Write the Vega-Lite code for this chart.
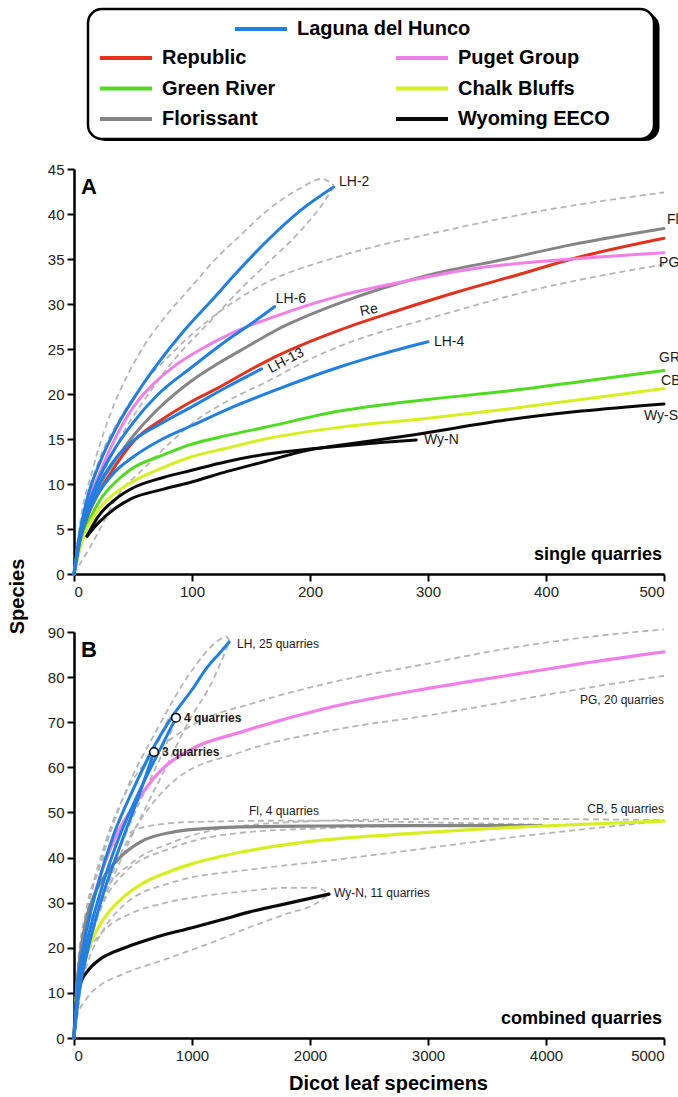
{
  "$schema": "https://vega.github.io/schema/vega-lite/v6.json",
  "background": "white",
  "padding": {"left": 7, "top": 7, "right": 0, "bottom": 0},
  "config": {
    "view": {"stroke": null},
    "font": "Liberation Sans",
    "axis": {"domainColor": "black", "domainWidth": 2.5, "tickColor": "black", "tickWidth": 2, "tickSize": 7, "labelFont": "Liberation Sans", "labelFontSize": 15, "labelColor": "#222222", "grid": false, "labelPadding": 3, "titleFont": "Liberation Sans", "titleFontWeight": "bold", "titleFontSize": 20, "titleColor": "black"}
  },
  "spacing": 58,
  "bounds": "flush",
  "resolve": {"scale": {"x": "independent", "y": "independent"}},
  "datasets": {
    "curvesA": [
      {"site": "Laguna del Hunco", "curve": "LH-2", "n": 0, "s": 0}, {"site": "Laguna del Hunco", "curve": "LH-2", "n": 4, "s": 3.9}, {"site": "Laguna del Hunco", "curve": "LH-2", "n": 11, "s": 8.3}, {"site": "Laguna del Hunco", "curve": "LH-2", "n": 22, "s": 12.4}, {"site": "Laguna del Hunco", "curve": "LH-2", "n": 36, "s": 16.3}, {"site": "Laguna del Hunco", "curve": "LH-2", "n": 54, "s": 20.2}, {"site": "Laguna del Hunco", "curve": "LH-2", "n": 70, "s": 23.2}, {"site": "Laguna del Hunco", "curve": "LH-2", "n": 93, "s": 27}, {"site": "Laguna del Hunco", "curve": "LH-2", "n": 116, "s": 30.3}, {"site": "Laguna del Hunco", "curve": "LH-2", "n": 140, "s": 33.8}, {"site": "Laguna del Hunco", "curve": "LH-2", "n": 165, "s": 37.2}, {"site": "Laguna del Hunco", "curve": "LH-2", "n": 191, "s": 40.3}, {"site": "Laguna del Hunco", "curve": "LH-2", "n": 220, "s": 43},
      {"site": "Laguna del Hunco", "curve": "LH-6", "n": 0, "s": 0}, {"site": "Laguna del Hunco", "curve": "LH-6", "n": 5, "s": 4}, {"site": "Laguna del Hunco", "curve": "LH-6", "n": 10, "s": 6.8}, {"site": "Laguna del Hunco", "curve": "LH-6", "n": 20, "s": 10.3}, {"site": "Laguna del Hunco", "curve": "LH-6", "n": 35, "s": 14}, {"site": "Laguna del Hunco", "curve": "LH-6", "n": 50, "s": 16.8}, {"site": "Laguna del Hunco", "curve": "LH-6", "n": 70, "s": 19.8}, {"site": "Laguna del Hunco", "curve": "LH-6", "n": 100, "s": 23}, {"site": "Laguna del Hunco", "curve": "LH-6", "n": 130, "s": 26}, {"site": "Laguna del Hunco", "curve": "LH-6", "n": 150, "s": 27.8}, {"site": "Laguna del Hunco", "curve": "LH-6", "n": 170, "s": 29.7},
      {"site": "Laguna del Hunco", "curve": "LH-13", "n": 0, "s": 0}, {"site": "Laguna del Hunco", "curve": "LH-13", "n": 5, "s": 3.8}, {"site": "Laguna del Hunco", "curve": "LH-13", "n": 10, "s": 6.4}, {"site": "Laguna del Hunco", "curve": "LH-13", "n": 20, "s": 9.6}, {"site": "Laguna del Hunco", "curve": "LH-13", "n": 35, "s": 12.8}, {"site": "Laguna del Hunco", "curve": "LH-13", "n": 50, "s": 14.8}, {"site": "Laguna del Hunco", "curve": "LH-13", "n": 75, "s": 16.8}, {"site": "Laguna del Hunco", "curve": "LH-13", "n": 100, "s": 18.6}, {"site": "Laguna del Hunco", "curve": "LH-13", "n": 130, "s": 20.8}, {"site": "Laguna del Hunco", "curve": "LH-13", "n": 159, "s": 22.8},
      {"site": "Laguna del Hunco", "curve": "LH-4", "n": 0, "s": 0}, {"site": "Laguna del Hunco", "curve": "LH-4", "n": 5, "s": 3.6}, {"site": "Laguna del Hunco", "curve": "LH-4", "n": 10, "s": 6}, {"site": "Laguna del Hunco", "curve": "LH-4", "n": 20, "s": 8.8}, {"site": "Laguna del Hunco", "curve": "LH-4", "n": 35, "s": 11.4}, {"site": "Laguna del Hunco", "curve": "LH-4", "n": 50, "s": 13}, {"site": "Laguna del Hunco", "curve": "LH-4", "n": 75, "s": 15}, {"site": "Laguna del Hunco", "curve": "LH-4", "n": 100, "s": 16.5}, {"site": "Laguna del Hunco", "curve": "LH-4", "n": 130, "s": 18.3}, {"site": "Laguna del Hunco", "curve": "LH-4", "n": 170, "s": 20.4}, {"site": "Laguna del Hunco", "curve": "LH-4", "n": 225, "s": 23}, {"site": "Laguna del Hunco", "curve": "LH-4", "n": 260, "s": 24.4}, {"site": "Laguna del Hunco", "curve": "LH-4", "n": 300, "s": 25.8},
      {"site": "Republic", "curve": "Re", "n": 0, "s": 0}, {"site": "Republic", "curve": "Re", "n": 5, "s": 3.3}, {"site": "Republic", "curve": "Re", "n": 10, "s": 5.8}, {"site": "Republic", "curve": "Re", "n": 20, "s": 8.8}, {"site": "Republic", "curve": "Re", "n": 30, "s": 11}, {"site": "Republic", "curve": "Re", "n": 51, "s": 14.8}, {"site": "Republic", "curve": "Re", "n": 75, "s": 17.2}, {"site": "Republic", "curve": "Re", "n": 100, "s": 19.2}, {"site": "Republic", "curve": "Re", "n": 121, "s": 20.6}, {"site": "Republic", "curve": "Re", "n": 151, "s": 22.8}, {"site": "Republic", "curve": "Re", "n": 170, "s": 24.1}, {"site": "Republic", "curve": "Re", "n": 225, "s": 27.1}, {"site": "Republic", "curve": "Re", "n": 275, "s": 29.3}, {"site": "Republic", "curve": "Re", "n": 324, "s": 31.3}, {"site": "Republic", "curve": "Re", "n": 375, "s": 33.2}, {"site": "Republic", "curve": "Re", "n": 422, "s": 35}, {"site": "Republic", "curve": "Re", "n": 500, "s": 37.3},
      {"site": "Florissant", "curve": "Fl", "n": 0, "s": 0}, {"site": "Florissant", "curve": "Fl", "n": 5, "s": 3.6}, {"site": "Florissant", "curve": "Fl", "n": 10, "s": 6.2}, {"site": "Florissant", "curve": "Fl", "n": 20, "s": 9.4}, {"site": "Florissant", "curve": "Fl", "n": 37, "s": 13}, {"site": "Florissant", "curve": "Fl", "n": 50, "s": 15.3}, {"site": "Florissant", "curve": "Fl", "n": 71, "s": 18.3}, {"site": "Florissant", "curve": "Fl", "n": 100, "s": 21.5}, {"site": "Florissant", "curve": "Fl", "n": 121, "s": 23.3}, {"site": "Florissant", "curve": "Fl", "n": 150, "s": 25.5}, {"site": "Florissant", "curve": "Fl", "n": 170, "s": 27}, {"site": "Florissant", "curve": "Fl", "n": 225, "s": 30.1}, {"site": "Florissant", "curve": "Fl", "n": 300, "s": 33.2}, {"site": "Florissant", "curve": "Fl", "n": 366, "s": 35}, {"site": "Florissant", "curve": "Fl", "n": 422, "s": 36.6}, {"site": "Florissant", "curve": "Fl", "n": 500, "s": 38.4},
      {"site": "Puget Group", "curve": "PG", "n": 0, "s": 0}, {"site": "Puget Group", "curve": "PG", "n": 5, "s": 4.2}, {"site": "Puget Group", "curve": "PG", "n": 10, "s": 7.2}, {"site": "Puget Group", "curve": "PG", "n": 22, "s": 11.3}, {"site": "Puget Group", "curve": "PG", "n": 37, "s": 15.6}, {"site": "Puget Group", "curve": "PG", "n": 54, "s": 19.2}, {"site": "Puget Group", "curve": "PG", "n": 68, "s": 21.2}, {"site": "Puget Group", "curve": "PG", "n": 85, "s": 23.1}, {"site": "Puget Group", "curve": "PG", "n": 108, "s": 25}, {"site": "Puget Group", "curve": "PG", "n": 136, "s": 26.9}, {"site": "Puget Group", "curve": "PG", "n": 170, "s": 28.6}, {"site": "Puget Group", "curve": "PG", "n": 225, "s": 30.9}, {"site": "Puget Group", "curve": "PG", "n": 280, "s": 32.5}, {"site": "Puget Group", "curve": "PG", "n": 337, "s": 33.9}, {"site": "Puget Group", "curve": "PG", "n": 422, "s": 35}, {"site": "Puget Group", "curve": "PG", "n": 500, "s": 35.7},
      {"site": "Green River", "curve": "GR", "n": 0, "s": 0}, {"site": "Green River", "curve": "GR", "n": 5, "s": 3}, {"site": "Green River", "curve": "GR", "n": 10, "s": 5}, {"site": "Green River", "curve": "GR", "n": 21, "s": 8}, {"site": "Green River", "curve": "GR", "n": 35, "s": 10.2}, {"site": "Green River", "curve": "GR", "n": 49, "s": 11.7}, {"site": "Green River", "curve": "GR", "n": 75, "s": 13.2}, {"site": "Green River", "curve": "GR", "n": 99, "s": 14.4}, {"site": "Green River", "curve": "GR", "n": 130, "s": 15.4}, {"site": "Green River", "curve": "GR", "n": 162, "s": 16.3}, {"site": "Green River", "curve": "GR", "n": 225, "s": 18.1}, {"site": "Green River", "curve": "GR", "n": 300, "s": 19.4}, {"site": "Green River", "curve": "GR", "n": 366, "s": 20.3}, {"site": "Green River", "curve": "GR", "n": 430, "s": 21.4}, {"site": "Green River", "curve": "GR", "n": 500, "s": 22.6},
      {"site": "Chalk Bluffs", "curve": "CB", "n": 0, "s": 0}, {"site": "Chalk Bluffs", "curve": "CB", "n": 5, "s": 2.8}, {"site": "Chalk Bluffs", "curve": "CB", "n": 10, "s": 4.7}, {"site": "Chalk Bluffs", "curve": "CB", "n": 21, "s": 7.2}, {"site": "Chalk Bluffs", "curve": "CB", "n": 35, "s": 9}, {"site": "Chalk Bluffs", "curve": "CB", "n": 49, "s": 10.2}, {"site": "Chalk Bluffs", "curve": "CB", "n": 75, "s": 11.8}, {"site": "Chalk Bluffs", "curve": "CB", "n": 99, "s": 13}, {"site": "Chalk Bluffs", "curve": "CB", "n": 130, "s": 14}, {"site": "Chalk Bluffs", "curve": "CB", "n": 162, "s": 15}, {"site": "Chalk Bluffs", "curve": "CB", "n": 225, "s": 16.3}, {"site": "Chalk Bluffs", "curve": "CB", "n": 300, "s": 17.3}, {"site": "Chalk Bluffs", "curve": "CB", "n": 366, "s": 18.3}, {"site": "Chalk Bluffs", "curve": "CB", "n": 430, "s": 19.4}, {"site": "Chalk Bluffs", "curve": "CB", "n": 500, "s": 20.6},
      {"site": "Wyoming EECO", "curve": "Wy-N", "n": 11, "s": 4.2}, {"site": "Wyoming EECO", "curve": "Wy-N", "n": 20, "s": 6.3}, {"site": "Wyoming EECO", "curve": "Wy-N", "n": 35, "s": 8.3}, {"site": "Wyoming EECO", "curve": "Wy-N", "n": 49, "s": 9.5}, {"site": "Wyoming EECO", "curve": "Wy-N", "n": 75, "s": 10.7}, {"site": "Wyoming EECO", "curve": "Wy-N", "n": 99, "s": 11.5}, {"site": "Wyoming EECO", "curve": "Wy-N", "n": 130, "s": 12.5}, {"site": "Wyoming EECO", "curve": "Wy-N", "n": 162, "s": 13.3}, {"site": "Wyoming EECO", "curve": "Wy-N", "n": 200, "s": 13.9}, {"site": "Wyoming EECO", "curve": "Wy-N", "n": 225, "s": 14.2}, {"site": "Wyoming EECO", "curve": "Wy-N", "n": 260, "s": 14.6}, {"site": "Wyoming EECO", "curve": "Wy-N", "n": 290, "s": 14.9},
      {"site": "Wyoming EECO", "curve": "Wy-S", "n": 11, "s": 4.2}, {"site": "Wyoming EECO", "curve": "Wy-S", "n": 20, "s": 5.6}, {"site": "Wyoming EECO", "curve": "Wy-S", "n": 35, "s": 7.3}, {"site": "Wyoming EECO", "curve": "Wy-S", "n": 49, "s": 8.4}, {"site": "Wyoming EECO", "curve": "Wy-S", "n": 75, "s": 9.4}, {"site": "Wyoming EECO", "curve": "Wy-S", "n": 99, "s": 10.2}, {"site": "Wyoming EECO", "curve": "Wy-S", "n": 130, "s": 11.4}, {"site": "Wyoming EECO", "curve": "Wy-S", "n": 162, "s": 12.5}, {"site": "Wyoming EECO", "curve": "Wy-S", "n": 200, "s": 13.8}, {"site": "Wyoming EECO", "curve": "Wy-S", "n": 225, "s": 14.3}, {"site": "Wyoming EECO", "curve": "Wy-S", "n": 290, "s": 15.5}, {"site": "Wyoming EECO", "curve": "Wy-S", "n": 366, "s": 17.1}, {"site": "Wyoming EECO", "curve": "Wy-S", "n": 430, "s": 18.1}, {"site": "Wyoming EECO", "curve": "Wy-S", "n": 500, "s": 18.9}
    ],
    "ciA": [
      {"curve": "LH-2 hi", "n": 0, "s": 0}, {"curve": "LH-2 hi", "n": 5, "s": 5.5}, {"curve": "LH-2 hi", "n": 16, "s": 11.7}, {"curve": "LH-2 hi", "n": 30, "s": 17.5}, {"curve": "LH-2 hi", "n": 45, "s": 22}, {"curve": "LH-2 hi", "n": 60, "s": 25.5}, {"curve": "LH-2 hi", "n": 78, "s": 28.7}, {"curve": "LH-2 hi", "n": 100, "s": 32}, {"curve": "LH-2 hi", "n": 120, "s": 35}, {"curve": "LH-2 hi", "n": 140, "s": 37.5}, {"curve": "LH-2 hi", "n": 162, "s": 40.2}, {"curve": "LH-2 hi", "n": 191, "s": 42.8}, {"curve": "LH-2 hi", "n": 210, "s": 43.9}, {"curve": "LH-2 hi", "n": 220, "s": 43.2},
      {"curve": "LH-2 lo", "n": 0, "s": 0}, {"curve": "LH-2 lo", "n": 10, "s": 5.5}, {"curve": "LH-2 lo", "n": 20, "s": 9.5}, {"curve": "LH-2 lo", "n": 40, "s": 15.3}, {"curve": "LH-2 lo", "n": 60, "s": 19.4}, {"curve": "LH-2 lo", "n": 83, "s": 23.5}, {"curve": "LH-2 lo", "n": 117, "s": 28.3}, {"curve": "LH-2 lo", "n": 140, "s": 31.5}, {"curve": "LH-2 lo", "n": 162, "s": 34.3}, {"curve": "LH-2 lo", "n": 191, "s": 38}, {"curve": "LH-2 lo", "n": 210, "s": 41}, {"curve": "LH-2 lo", "n": 220, "s": 43},
      {"curve": "Fl hi", "n": 0, "s": 0}, {"curve": "Fl hi", "n": 10, "s": 8}, {"curve": "Fl hi", "n": 20, "s": 12.2}, {"curve": "Fl hi", "n": 40, "s": 17.5}, {"curve": "Fl hi", "n": 60, "s": 21.3}, {"curve": "Fl hi", "n": 85, "s": 24.8}, {"curve": "Fl hi", "n": 117, "s": 28.5}, {"curve": "Fl hi", "n": 162, "s": 32.3}, {"curve": "Fl hi", "n": 225, "s": 35.3}, {"curve": "Fl hi", "n": 309, "s": 38}, {"curve": "Fl hi", "n": 394, "s": 40.3}, {"curve": "Fl hi", "n": 500, "s": 42.4},
      {"curve": "Fl lo", "n": 0, "s": 0}, {"curve": "Fl lo", "n": 15, "s": 3.3}, {"curve": "Fl lo", "n": 42, "s": 9.6}, {"curve": "Fl lo", "n": 55, "s": 11.2}, {"curve": "Fl lo", "n": 85, "s": 15}, {"curve": "Fl lo", "n": 106, "s": 17.3}, {"curve": "Fl lo", "n": 127, "s": 19}, {"curve": "Fl lo", "n": 170, "s": 21.8}, {"curve": "Fl lo", "n": 191, "s": 23.3}, {"curve": "Fl lo", "n": 225, "s": 25.3}, {"curve": "Fl lo", "n": 309, "s": 28.7}, {"curve": "Fl lo", "n": 394, "s": 31.7}, {"curve": "Fl lo", "n": 500, "s": 34.4}
    ],
    "curvesB": [
      {"site": "Laguna del Hunco", "curve": "LH 25", "n": 0, "s": 0}, {"site": "Laguna del Hunco", "curve": "LH 25", "n": 25, "s": 10.2}, {"site": "Laguna del Hunco", "curve": "LH 25", "n": 85, "s": 21}, {"site": "Laguna del Hunco", "curve": "LH 25", "n": 195, "s": 33.3}, {"site": "Laguna del Hunco", "curve": "LH 25", "n": 339, "s": 45.3}, {"site": "Laguna del Hunco", "curve": "LH 25", "n": 508, "s": 55.5}, {"site": "Laguna del Hunco", "curve": "LH 25", "n": 678, "s": 64.6}, {"site": "Laguna del Hunco", "curve": "LH 25", "n": 847, "s": 71.8}, {"site": "Laguna del Hunco", "curve": "LH 25", "n": 1000, "s": 77.2}, {"site": "Laguna del Hunco", "curve": "LH 25", "n": 1130, "s": 82.2}, {"site": "Laguna del Hunco", "curve": "LH 25", "n": 1230, "s": 85.2}, {"site": "Laguna del Hunco", "curve": "LH 25", "n": 1314, "s": 87.8},
      {"site": "Laguna del Hunco", "curve": "LH 4q", "n": 0, "s": 0}, {"site": "Laguna del Hunco", "curve": "LH 4q", "n": 30, "s": 9.6}, {"site": "Laguna del Hunco", "curve": "LH 4q", "n": 100, "s": 20}, {"site": "Laguna del Hunco", "curve": "LH 4q", "n": 220, "s": 32}, {"site": "Laguna del Hunco", "curve": "LH 4q", "n": 360, "s": 43}, {"site": "Laguna del Hunco", "curve": "LH 4q", "n": 520, "s": 52.8}, {"site": "Laguna del Hunco", "curve": "LH 4q", "n": 700, "s": 62.5}, {"site": "Laguna del Hunco", "curve": "LH 4q", "n": 864, "s": 71},
      {"site": "Laguna del Hunco", "curve": "LH 3q", "n": 0, "s": 0}, {"site": "Laguna del Hunco", "curve": "LH 3q", "n": 40, "s": 9.4}, {"site": "Laguna del Hunco", "curve": "LH 3q", "n": 120, "s": 19.8}, {"site": "Laguna del Hunco", "curve": "LH 3q", "n": 240, "s": 31.3}, {"site": "Laguna del Hunco", "curve": "LH 3q", "n": 390, "s": 42.5}, {"site": "Laguna del Hunco", "curve": "LH 3q", "n": 540, "s": 53}, {"site": "Laguna del Hunco", "curve": "LH 3q", "n": 678, "s": 63.4},
      {"site": "Puget Group", "curve": "PG", "n": 0, "s": 0}, {"site": "Puget Group", "curve": "PG", "n": 30, "s": 12}, {"site": "Puget Group", "curve": "PG", "n": 100, "s": 24}, {"site": "Puget Group", "curve": "PG", "n": 200, "s": 34}, {"site": "Puget Group", "curve": "PG", "n": 300, "s": 41.5}, {"site": "Puget Group", "curve": "PG", "n": 400, "s": 47}, {"site": "Puget Group", "curve": "PG", "n": 508, "s": 51.5}, {"site": "Puget Group", "curve": "PG", "n": 706, "s": 58.5}, {"site": "Puget Group", "curve": "PG", "n": 992, "s": 64}, {"site": "Puget Group", "curve": "PG", "n": 1415, "s": 67.8}, {"site": "Puget Group", "curve": "PG", "n": 2119, "s": 73}, {"site": "Puget Group", "curve": "PG", "n": 3000, "s": 77.5}, {"site": "Puget Group", "curve": "PG", "n": 3661, "s": 80.3}, {"site": "Puget Group", "curve": "PG", "n": 4300, "s": 83}, {"site": "Puget Group", "curve": "PG", "n": 5000, "s": 85.6},
      {"site": "Florissant", "curve": "Fl", "n": 0, "s": 0}, {"site": "Florissant", "curve": "Fl", "n": 20, "s": 10}, {"site": "Florissant", "curve": "Fl", "n": 50, "s": 18}, {"site": "Florissant", "curve": "Fl", "n": 100, "s": 26}, {"site": "Florissant", "curve": "Fl", "n": 169, "s": 31.5}, {"site": "Florissant", "curve": "Fl", "n": 282, "s": 36.8}, {"site": "Florissant", "curve": "Fl", "n": 400, "s": 40.3}, {"site": "Florissant", "curve": "Fl", "n": 565, "s": 43.5}, {"site": "Florissant", "curve": "Fl", "n": 847, "s": 45.7}, {"site": "Florissant", "curve": "Fl", "n": 1100, "s": 46.4}, {"site": "Florissant", "curve": "Fl", "n": 1415, "s": 46.8}, {"site": "Florissant", "curve": "Fl", "n": 2119, "s": 47}, {"site": "Florissant", "curve": "Fl", "n": 3000, "s": 47.1}, {"site": "Florissant", "curve": "Fl", "n": 3966, "s": 47.1},
      {"site": "Chalk Bluffs", "curve": "CB", "n": 0, "s": 0}, {"site": "Chalk Bluffs", "curve": "CB", "n": 20, "s": 9}, {"site": "Chalk Bluffs", "curve": "CB", "n": 85, "s": 16.5}, {"site": "Chalk Bluffs", "curve": "CB", "n": 150, "s": 21.5}, {"site": "Chalk Bluffs", "curve": "CB", "n": 282, "s": 27.5}, {"site": "Chalk Bluffs", "curve": "CB", "n": 400, "s": 30.8}, {"site": "Chalk Bluffs", "curve": "CB", "n": 565, "s": 34}, {"site": "Chalk Bluffs", "curve": "CB", "n": 800, "s": 36.8}, {"site": "Chalk Bluffs", "curve": "CB", "n": 1000, "s": 38.6}, {"site": "Chalk Bluffs", "curve": "CB", "n": 1415, "s": 41.2}, {"site": "Chalk Bluffs", "curve": "CB", "n": 2119, "s": 43.9}, {"site": "Chalk Bluffs", "curve": "CB", "n": 2898, "s": 45.4}, {"site": "Chalk Bluffs", "curve": "CB", "n": 3500, "s": 46.4}, {"site": "Chalk Bluffs", "curve": "CB", "n": 3966, "s": 47}, {"site": "Chalk Bluffs", "curve": "CB", "n": 5000, "s": 48.1},
      {"site": "Wyoming EECO", "curve": "Wy-N", "n": 0, "s": 0}, {"site": "Wyoming EECO", "curve": "Wy-N", "n": 10, "s": 5.5}, {"site": "Wyoming EECO", "curve": "Wy-N", "n": 30, "s": 9.8}, {"site": "Wyoming EECO", "curve": "Wy-N", "n": 60, "s": 12.5}, {"site": "Wyoming EECO", "curve": "Wy-N", "n": 120, "s": 15}, {"site": "Wyoming EECO", "curve": "Wy-N", "n": 212, "s": 17.3}, {"site": "Wyoming EECO", "curve": "Wy-N", "n": 350, "s": 19.2}, {"site": "Wyoming EECO", "curve": "Wy-N", "n": 492, "s": 20.6}, {"site": "Wyoming EECO", "curve": "Wy-N", "n": 700, "s": 22.4}, {"site": "Wyoming EECO", "curve": "Wy-N", "n": 992, "s": 24.4}, {"site": "Wyoming EECO", "curve": "Wy-N", "n": 1250, "s": 26.2}, {"site": "Wyoming EECO", "curve": "Wy-N", "n": 1483, "s": 27.9}, {"site": "Wyoming EECO", "curve": "Wy-N", "n": 1800, "s": 29.8}, {"site": "Wyoming EECO", "curve": "Wy-N", "n": 2161, "s": 31.9}
    ],
    "ciB": [
      {"curve": "LH out hi", "n": 0, "s": 0}, {"curve": "LH out hi", "n": 30, "s": 13}, {"curve": "LH out hi", "n": 85, "s": 24.2}, {"curve": "LH out hi", "n": 229, "s": 39}, {"curve": "LH out hi", "n": 424, "s": 53.7}, {"curve": "LH out hi", "n": 706, "s": 68.5}, {"curve": "LH out hi", "n": 992, "s": 81.2}, {"curve": "LH out hi", "n": 1246, "s": 88.5}, {"curve": "LH out hi", "n": 1290, "s": 89}, {"curve": "LH out hi", "n": 1314, "s": 88.2},
      {"curve": "LH out lo", "n": 0, "s": 0}, {"curve": "LH out lo", "n": 60, "s": 12}, {"curve": "LH out lo", "n": 169, "s": 24.2}, {"curve": "LH out lo", "n": 364, "s": 37.5}, {"curve": "LH out lo", "n": 568, "s": 49}, {"curve": "LH out lo", "n": 788, "s": 60.5}, {"curve": "LH out lo", "n": 958, "s": 69.5}, {"curve": "LH out lo", "n": 1186, "s": 79.8}, {"curve": "LH out lo", "n": 1280, "s": 85.5}, {"curve": "LH out lo", "n": 1314, "s": 87.8},
      {"curve": "LH in hi", "n": 0, "s": 0}, {"curve": "LH in hi", "n": 40, "s": 13.5}, {"curve": "LH in hi", "n": 120, "s": 25}, {"curve": "LH in hi", "n": 250, "s": 38}, {"curve": "LH in hi", "n": 400, "s": 49}, {"curve": "LH in hi", "n": 560, "s": 58}, {"curve": "LH in hi", "n": 720, "s": 66}, {"curve": "LH in hi", "n": 830, "s": 71.5}, {"curve": "LH in hi", "n": 864, "s": 71.6},
      {"curve": "LH in lo", "n": 0, "s": 0}, {"curve": "LH in lo", "n": 80, "s": 14.5}, {"curve": "LH in lo", "n": 200, "s": 27.5}, {"curve": "LH in lo", "n": 350, "s": 39.5}, {"curve": "LH in lo", "n": 500, "s": 49}, {"curve": "LH in lo", "n": 650, "s": 57.5}, {"curve": "LH in lo", "n": 780, "s": 65}, {"curve": "LH in lo", "n": 864, "s": 71},
      {"curve": "PG hi", "n": 0, "s": 0}, {"curve": "PG hi", "n": 40, "s": 15}, {"curve": "PG hi", "n": 120, "s": 29}, {"curve": "PG hi", "n": 250, "s": 42}, {"curve": "PG hi", "n": 450, "s": 55}, {"curve": "PG hi", "n": 700, "s": 63.5}, {"curve": "PG hi", "n": 992, "s": 69.2}, {"curve": "PG hi", "n": 1554, "s": 74.5}, {"curve": "PG hi", "n": 2246, "s": 79.2}, {"curve": "PG hi", "n": 3000, "s": 83}, {"curve": "PG hi", "n": 3661, "s": 86.3}, {"curve": "PG hi", "n": 4300, "s": 88.7}, {"curve": "PG hi", "n": 5000, "s": 90.6},
      {"curve": "PG lo", "n": 0, "s": 0}, {"curve": "PG lo", "n": 60, "s": 13}, {"curve": "PG lo", "n": 200, "s": 27}, {"curve": "PG lo", "n": 400, "s": 41}, {"curve": "PG lo", "n": 568, "s": 48.5}, {"curve": "PG lo", "n": 847, "s": 57}, {"curve": "PG lo", "n": 1415, "s": 63.4}, {"curve": "PG lo", "n": 2246, "s": 68.5}, {"curve": "PG lo", "n": 3000, "s": 71.5}, {"curve": "PG lo", "n": 3661, "s": 74.5}, {"curve": "PG lo", "n": 4300, "s": 77.4}, {"curve": "PG lo", "n": 5000, "s": 80.3},
      {"curve": "Fl hi", "n": 0, "s": 0}, {"curve": "Fl hi", "n": 30, "s": 15}, {"curve": "Fl hi", "n": 100, "s": 28}, {"curve": "Fl hi", "n": 200, "s": 37}, {"curve": "Fl hi", "n": 400, "s": 44}, {"curve": "Fl hi", "n": 600, "s": 46.8}, {"curve": "Fl hi", "n": 1000, "s": 47.9}, {"curve": "Fl hi", "n": 2000, "s": 48.2}, {"curve": "Fl hi", "n": 3000, "s": 47.8}, {"curve": "Fl hi", "n": 3966, "s": 47.3},
      {"curve": "Fl lo", "n": 0, "s": 0}, {"curve": "Fl lo", "n": 30, "s": 8}, {"curve": "Fl lo", "n": 100, "s": 18}, {"curve": "Fl lo", "n": 250, "s": 30}, {"curve": "Fl lo", "n": 424, "s": 36.5}, {"curve": "Fl lo", "n": 847, "s": 42.3}, {"curve": "Fl lo", "n": 1415, "s": 45.5}, {"curve": "Fl lo", "n": 2119, "s": 46.5}, {"curve": "Fl lo", "n": 3000, "s": 47}, {"curve": "Fl lo", "n": 3966, "s": 47.1},
      {"curve": "CB hi", "n": 0, "s": 0}, {"curve": "CB hi", "n": 30, "s": 13}, {"curve": "CB hi", "n": 100, "s": 22.5}, {"curve": "CB hi", "n": 250, "s": 32}, {"curve": "CB hi", "n": 500, "s": 39}, {"curve": "CB hi", "n": 847, "s": 43.5}, {"curve": "CB hi", "n": 1483, "s": 47.2}, {"curve": "CB hi", "n": 2500, "s": 48.4}, {"curve": "CB hi", "n": 3500, "s": 48.6}, {"curve": "CB hi", "n": 5000, "s": 48.3},
      {"curve": "CB lo", "n": 0, "s": 0}, {"curve": "CB lo", "n": 40, "s": 9}, {"curve": "CB lo", "n": 120, "s": 17}, {"curve": "CB lo", "n": 250, "s": 24}, {"curve": "CB lo", "n": 424, "s": 29.5}, {"curve": "CB lo", "n": 847, "s": 34.6}, {"curve": "CB lo", "n": 1483, "s": 37.3}, {"curve": "CB lo", "n": 2119, "s": 39.2}, {"curve": "CB lo", "n": 2610, "s": 40.8}, {"curve": "CB lo", "n": 3746, "s": 44.6}, {"curve": "CB lo", "n": 5000, "s": 48.1},
      {"curve": "Wy hi", "n": 0, "s": 0}, {"curve": "Wy hi", "n": 20, "s": 10}, {"curve": "Wy hi", "n": 60, "s": 15.5}, {"curve": "Wy hi", "n": 150, "s": 20.5}, {"curve": "Wy hi", "n": 282, "s": 24.5}, {"curve": "Wy hi", "n": 500, "s": 27.8}, {"curve": "Wy hi", "n": 780, "s": 30}, {"curve": "Wy hi", "n": 1100, "s": 31.5}, {"curve": "Wy hi", "n": 1483, "s": 32.6}, {"curve": "Wy hi", "n": 1800, "s": 33.3}, {"curve": "Wy hi", "n": 2050, "s": 33.3}, {"curve": "Wy hi", "n": 2161, "s": 32},
      {"curve": "Wy lo", "n": 0, "s": 0}, {"curve": "Wy lo", "n": 30, "s": 5}, {"curve": "Wy lo", "n": 100, "s": 8.5}, {"curve": "Wy lo", "n": 212, "s": 11.5}, {"curve": "Wy lo", "n": 400, "s": 14}, {"curve": "Wy lo", "n": 780, "s": 17.5}, {"curve": "Wy lo", "n": 1200, "s": 21.5}, {"curve": "Wy lo", "n": 1483, "s": 24.5}, {"curve": "Wy lo", "n": 1800, "s": 27.5}, {"curve": "Wy lo", "n": 2050, "s": 29.8}, {"curve": "Wy lo", "n": 2161, "s": 31.9}
    ],
    "labelsA": [
      {"t": "LH-2", "n": 224.6, "s": 43.6}, {"t": "LH-6", "n": 171, "s": 30.6}, {"t": "LH-4", "n": 305, "s": 25.8}, {"t": "Fl", "n": 502.5, "s": 39.3}, {"t": "PG", "n": 495.8, "s": 34.6}, {"t": "GR", "n": 495.8, "s": 24}, {"t": "CB", "n": 497.5, "s": 21.4}, {"t": "Wy-S", "n": 483, "s": 17.6}, {"t": "Wy-N", "n": 296.6, "s": 14.9}
    ],
    "labelsB": [
      {"t": "LH, 25 quarries", "n": 1381, "s": 87.4}, {"t": "Fl, 4 quarries", "n": 1483, "s": 50.3}, {"t": "Wy-N, 11 quarries", "n": 2203, "s": 32.2}
    ],
    "labelsBright": [
      {"t": "PG, 20 quarries", "n": 5000, "s": 74.9}, {"t": "CB, 5 quarries", "n": 5000, "s": 50.8}
    ],
    "quarryPts": [
      {"t": "4 quarries", "n": 864, "s": 71}, {"t": "3 quarries", "n": 678, "s": 63.4}
    ]
  },
  "vconcat": [
    {
      "width": 590,
      "height": 405,
      "encoding": {
        "x": {"field": "n", "type": "quantitative", "scale": {"domain": [0, 500], "nice": false}, "axis": {"values": [0, 100, 200, 300, 400, 500], "title": null}},
        "y": {"field": "s", "type": "quantitative", "scale": {"domain": [0, 45], "nice": false}, "axis": {"values": [0, 5, 10, 15, 20, 25, 30, 35, 40, 45], "title": "Species", "titleX": -51, "titleY": 427, "titleAngle": -90, "titleAlign": "center", "titleBaseline": "alphabetic"}}
      },
      "layer": [
        {"data": {"values": [{"t": "A", "n": 5.9, "s": 42.2}]}, "mark": {"type": "text", "align": "left", "baseline": "alphabetic", "fontSize": 22, "fontWeight": "bold"},
          "encoding": {"text": {"field": "t"},
            "fill": {"datum": 1, "type": "quantitative", "scale": {"domain": [0, 1], "range": ["black", "black"]},
              "legend": {"orient": "none", "legendX": 18.5, "legendY": -156, "direction": "horizontal", "title": null, "padding": 0,
                "gradientLength": 567, "gradientThickness": 128, "gradientStrokeWidth": 0, "labelExpr": "''", "labelFontSize": 1, "labelOffset": 0,
                "encode": {"gradient": {"update": {"cornerRadius": {"value": 14}}}}}}}},
        {"data": {"name": "ciA"}, "mark": {"type": "line", "interpolate": "monotone", "strokeDash": [6, 4], "strokeWidth": 1.8, "color": "#b5b5b5"}, "encoding": {"detail": {"field": "curve"}}},
        {"data": {"name": "curvesA"}, "transform": [{"filter": "datum.site !== 'Laguna del Hunco'"}], "mark": {"type": "line", "interpolate": "monotone", "strokeWidth": 3, "strokeCap": "round"},
          "encoding": {"detail": {"field": "curve"},
            "stroke": {"field": "site", "type": "nominal",
              "scale": {"domain": ["Republic", "Green River", "Florissant", "Puget Group", "Chalk Bluffs", "Wyoming EECO"], "range": ["#e2321b", "#4fdb20", "#858585", "#f07fe8", "#d5ef1f", "#0a0a0a"]},
              "legend": {"orient": "none", "legendX": 14, "legendY": -160, "columns": 2, "columnPadding": 112, "rowPadding": 8.5,
                "symbolType": "M-1,0H4.2", "symbolSize": 400, "symbolStrokeWidth": 4,
                "labelFont": "Liberation Sans", "labelFontSize": 20, "labelFontWeight": "bold", "labelColor": "black", "labelOffset": 40, "labelLimit": 500,
                "labelExpr": "datum.label == 'Wyoming EECO' ? datum.label + '\u00a0\u00a0\u00a0\u00a0\u00a0\u00a0\u200b' : datum.label",
                "title": "\u00a0\u00a0\u00a0\u00a0\u00a0\u00a0\u00a0\u00a0\u00a0\u00a0\u00a0\u00a0\u00a0\u00a0\u00a0\u00a0\u00a0\u00a0\u00a0\u00a0",
                "titleFontSize": 20, "titlePadding": 7, "titleLimit": 2000,
                "strokeColor": "black", "fillColor": "white", "cornerRadius": 14, "padding": 10,
                "encode": {"legend": {"update": {"strokeWidth": {"value": 2.5}}}}}}}},
        {"data": {"name": "curvesA"}, "transform": [{"filter": "datum.site === 'Laguna del Hunco'"}], "mark": {"type": "line", "interpolate": "monotone", "strokeWidth": 3, "strokeCap": "round"},
          "encoding": {"detail": {"field": "curve"},
            "color": {"field": "site", "type": "nominal", "scale": {"domain": ["Laguna del Hunco"], "range": ["#1f7fe5"]},
              "legend": {"orient": "none", "legendX": 159, "legendY": -152, "title": null, "padding": 0,
                "symbolType": "M-1,0H4.2", "symbolSize": 400, "symbolStrokeWidth": 4,
                "labelFont": "Liberation Sans", "labelFontSize": 20, "labelFontWeight": "bold", "labelColor": "black", "labelOffset": 40, "labelLimit": 400}}}},
        {"data": {"name": "labelsA"}, "mark": {"type": "text", "align": "left", "baseline": "middle", "fontSize": 14, "color": "#1a1a1a"}, "encoding": {"text": {"field": "t"}}},
        {"data": {"values": [{"t": "LH-13", "n": 179.7, "s": 23.7}]}, "mark": {"type": "text", "align": "center", "baseline": "middle", "fontSize": 14, "angle": -28, "color": "#1a1a1a"}, "encoding": {"text": {"field": "t"}}},
        {"data": {"values": [{"t": "Re", "n": 250, "s": 29.3}]}, "mark": {"type": "text", "align": "center", "baseline": "middle", "fontSize": 14, "angle": -12, "color": "#1a1a1a"}, "encoding": {"text": {"field": "t"}}},
        {"data": {"values": [{"t": "single quarries", "n": 498.3, "s": 1.55}]}, "mark": {"type": "text", "align": "right", "baseline": "alphabetic", "fontSize": 18, "fontWeight": "bold", "color": "black"}, "encoding": {"text": {"field": "t"}}}
      ]
    },
    {
      "width": 590,
      "height": 406,
      "encoding": {
        "x": {"field": "n", "type": "quantitative", "scale": {"domain": [0, 5000], "nice": false}, "axis": {"values": [0, 1000, 2000, 3000, 4000, 5000], "format": "d", "title": "Dicot leaf specimens", "titleX": 314, "titleY": 51, "titleAlign": "center", "titleBaseline": "alphabetic"}},
        "y": {"field": "s", "type": "quantitative", "scale": {"domain": [0, 90], "nice": false}, "axis": {"values": [0, 10, 20, 30, 40, 50, 60, 70, 80, 90], "title": null}}
      },
      "layer": [
        {"data": {"name": "ciB"}, "mark": {"type": "line", "interpolate": "monotone", "strokeDash": [6, 4], "strokeWidth": 1.8, "color": "#b5b5b5"}, "encoding": {"detail": {"field": "curve"}}},
        {"data": {"name": "curvesB"}, "transform": [{"filter": "datum.site !== 'Laguna del Hunco'"}], "mark": {"type": "line", "interpolate": "monotone", "strokeWidth": 3.2, "strokeCap": "round"},
          "encoding": {"detail": {"field": "curve"}, "stroke": {"field": "site", "type": "nominal", "scale": {"domain": ["Republic", "Green River", "Florissant", "Puget Group", "Chalk Bluffs", "Wyoming EECO"], "range": ["#e2321b", "#4fdb20", "#858585", "#f07fe8", "#d5ef1f", "#0a0a0a"]}}}},
        {"data": {"name": "curvesB"}, "transform": [{"filter": "datum.site === 'Laguna del Hunco'"}], "mark": {"type": "line", "interpolate": "monotone", "strokeWidth": 3, "strokeCap": "round"},
          "encoding": {"detail": {"field": "curve"}, "color": {"field": "site", "type": "nominal", "scale": {"domain": ["Laguna del Hunco"], "range": ["#1f7fe5"]}}}},
        {"data": {"name": "quarryPts"}, "mark": {"type": "point", "shape": "circle", "filled": true, "fill": "white", "stroke": "black", "strokeWidth": 1.5, "size": 75, "opacity": 1}},
        {"data": {"name": "quarryPts"}, "mark": {"type": "text", "align": "left", "baseline": "middle", "dx": 8, "fontSize": 12, "fontWeight": "bold", "color": "#1a1a1a"}, "encoding": {"text": {"field": "t"}}},
        {"data": {"name": "labelsB"}, "mark": {"type": "text", "align": "left", "baseline": "middle", "fontSize": 12, "color": "#1a1a1a"}, "encoding": {"text": {"field": "t"}}},
        {"data": {"name": "labelsBright"}, "mark": {"type": "text", "align": "right", "baseline": "middle", "fontSize": 12, "color": "#1a1a1a"}, "encoding": {"text": {"field": "t"}}},
        {"data": {"values": [{"t": "B", "n": 59, "s": 84.5}]}, "mark": {"type": "text", "align": "left", "baseline": "alphabetic", "fontSize": 22, "fontWeight": "bold", "color": "black"}, "encoding": {"text": {"field": "t"}}},
        {"data": {"values": [{"t": "combined quarries", "n": 4983, "s": 3.1}]}, "mark": {"type": "text", "align": "right", "baseline": "alphabetic", "fontSize": 18, "fontWeight": "bold", "color": "black"}, "encoding": {"text": {"field": "t"}}}
      ]
    }
  ]
}
